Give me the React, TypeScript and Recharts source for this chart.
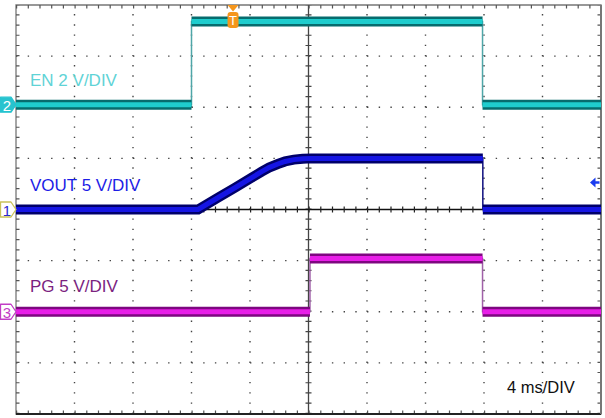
import { LineChart, Line, XAxis, YAxis, ReferenceLine, ReferenceDot, ReferenceArea } from "recharts";

// time in ms (4 ms/DIV, 10 divisions), volts per channel
const enTime = [0, 12.0, 12.0, 31.9, 31.9, 40];
const enVolts = [0, 0, 3.25, 3.25, 0, 0];

const voutTime = [0, 12.45, 13.8, 15.0, 16.1, 16.8, 17.3, 17.9, 18.4, 19.0, 19.6, 20.2, 31.92, 31.92, 40];
const voutVolts = [0, 0, 1.15, 2.15, 3.1, 3.7, 4.1, 4.45, 4.7, 4.88, 4.97, 5.0, 5.0, 0, 0];

const pgTime = [0, 20.1, 20.1, 31.9, 31.9, 40];
const pgVolts = [0, 0, 5.2, 5.2, 0, 0];

// grid (x in ms, y in divisions)
const xGrid = [4, 8, 12, 16, 24, 28, 32, 36];
const yGrid = [-3, -2, -1, 1, 2, 3];

const toPoints = (t: number[], v: number[]) => t.map((x, i) => ({ t: x, v: v[i] }));
// break the thick band at the fast (vertical) edges
const toBand = (t: number[], v: number[]) => {
  const out: { t: number; v: number | null }[] = [];
  t.forEach((x, i) => {
    if (i > 0 && (x - t[i - 1]) < 0.05 && Math.abs(v[i] - v[i - 1]) > 0.3) out.push({ t: x, v: null });
    out.push({ t: x, v: v[i] });
  });
  return out;
};

const FONT = "'Liberation Sans', Arial, sans-serif";

const channels = [
  { id: "en", t: enTime, v: enVolts, edge: "#4fa6a8", outer: "#076c6e", inner: "#1fcdce" },
  { id: "vout", t: voutTime, v: voutVolts, edge: "#101080", outer: "#00006a", inner: "#1515e4" },
  { id: "pg", t: pgTime, v: pgVolts, edge: "#a060a8", outer: "#7e0780", inner: "#e81ee8" },
];

const labels = [
  { text: "EN 2 V/DIV", t: 0.96, y: 2.52, color: "#5fd3d6", size: 17 },
  { text: "VOUT 5 V/DIV", t: 0.96, y: 0.47, color: "#1d1de6", size: 17 },
  { text: "PG 5 V/DIV", t: 0.96, y: -1.51, color: "#7b237f", size: 17 },
  { text: "4 ms/DIV", t: 33.57, y: -3.48, color: "#111", size: 16.5 },
];

const ChannelTag = ({ cx, cy, num, fill, border, color }: any) => (
  <g>
    <path
      d={`M${cx - 15.5},${cy - 7.5} L${cx - 5},${cy - 7.5} L${cx},${cy} L${cx - 5},${cy + 7.5} L${cx - 15.5},${cy + 7.5} Z`}
      fill={fill} stroke={border} strokeWidth={1.3} strokeLinejoin="round"
    />
    <text x={cx - 9} y={cy + 0.5} textAnchor="middle" dominantBaseline="central"
      style={{ fontFamily: FONT, fontSize: 15, fill: color }}>{num}</text>
  </g>
);

export default function App() {
  return (
    <div style={{ position: "absolute", left: 0, top: 0, background: "#fff" }}>
      <LineChart width={605} height={418} margin={{ top: 5, right: 4, bottom: 4, left: 16 }}>
        <XAxis type="number" dataKey="t" domain={[0, 40]} allowDataOverflow hide />
        <YAxis yAxisId="div" type="number" domain={[-4, 4]} allowDataOverflow hide />
        <YAxis yAxisId="en" type="number" domain={[-12.1, 3.9]} allowDataOverflow hide />
        <YAxis yAxisId="vout" type="number" domain={[-20, 20]} allowDataOverflow hide />
        <YAxis yAxisId="pg" type="number" domain={[-10, 30]} allowDataOverflow hide />

        {xGrid.map((x) => (
          <ReferenceLine key={`gx${x}`} yAxisId="div" x={x} stroke="#444" strokeWidth={1.4} strokeDasharray="1.4 8.82" />
        ))}
        {yGrid.map((y) => (
          <ReferenceLine key={`gy${y}`} yAxisId="div" y={y} stroke="#444" strokeWidth={1.4} strokeDasharray="1.4 10.3" />
        ))}

        {/* center axes with minor ticks */}
        <ReferenceLine yAxisId="div" x={20} stroke="#444" strokeWidth={1.3} />
        <ReferenceLine yAxisId="div" x={20} stroke="#444" strokeWidth={6} strokeDasharray="1.2 9.02" />
        <ReferenceLine yAxisId="div" y={0} stroke="#111" strokeWidth={1.3} />
        <ReferenceLine yAxisId="div" y={0} stroke="#222" strokeWidth={6} strokeDasharray="1.2 10.5" />

        {/* border ticks */}
        <ReferenceLine yAxisId="div" y={4 - 0.035} stroke="#555" strokeWidth={3.5} strokeDasharray="1.2 10.5" />
        <ReferenceLine yAxisId="div" y={-4 + 0.035} stroke="#555" strokeWidth={3.5} strokeDasharray="1.2 10.5" />
        <ReferenceLine yAxisId="div" x={0.12} stroke="#555" strokeWidth={3.5} strokeDasharray="1.2 9.02" />
        <ReferenceLine yAxisId="div" x={40 - 0.12} stroke="#555" strokeWidth={3.5} strokeDasharray="1.2 9.02" />

        <ReferenceArea yAxisId="div" x1={0} x2={40} y1={-4} y2={4} fill="none" stroke="#777" strokeWidth={1.3} />
        <ReferenceLine yAxisId="div" y={-4} stroke="#222" strokeWidth={2} />
        <ReferenceLine yAxisId="div" x={40} stroke="#777" strokeWidth={2} />

        {channels.map((c) => (
          <Line key={`${c.id}-edge`} yAxisId={c.id} data={toPoints(c.t, c.v)} dataKey="v" type="linear"
            stroke={c.edge} strokeWidth={1.5} dot={false} activeDot={false} isAnimationActive={false} />
        ))}
        {channels.map((c) => (
          <Line key={`${c.id}-outer`} yAxisId={c.id} data={toBand(c.t, c.v)} dataKey="v" type="linear"
            stroke={c.outer} strokeWidth={10} strokeLinecap="butt" dot={false} activeDot={false} isAnimationActive={false} />
        ))}
        {channels.map((c) => (
          <Line key={`${c.id}-inner`} yAxisId={c.id} data={toBand(c.t, c.v)} dataKey="v" type="linear"
            stroke={c.inner} strokeWidth={5} strokeLinecap="butt" dot={false} activeDot={false} isAnimationActive={false} />
        ))}

        {labels.map((l) => (
          <ReferenceDot key={l.text} yAxisId="div" x={l.t} y={l.y} r={0}
            shape={(p: any) => (
              <text x={p.cx} y={p.cy} dominantBaseline="central" textAnchor="start"
                style={{ fontFamily: FONT, fontSize: l.size, fill: l.color }}>{l.text}</text>
            )} />
        ))}

        <ReferenceDot yAxisId="en" x={0} y={0} r={0}
          shape={(p: any) => <ChannelTag cx={p.cx} cy={p.cy} num="2" fill="#27c3cf" border="#27c3cf" color="#fff" />} />
        <ReferenceDot yAxisId="vout" x={0} y={0} r={0}
          shape={(p: any) => <ChannelTag cx={p.cx} cy={p.cy} num="1" fill="#fff" border="#c9c25a" color="#2a2ad0" />} />
        <ReferenceDot yAxisId="pg" x={0} y={0} r={0}
          shape={(p: any) => <ChannelTag cx={p.cx} cy={p.cy} num="3" fill="#fff" border="#c23cc6" color="#c23cc6" />} />

        {/* trigger position */}
        <ReferenceDot yAxisId="div" x={14.84} y={4} r={0}
          shape={(p: any) => (
            <g>
              <path d={`M${p.cx - 5.5},${p.cy} L${p.cx + 5.5},${p.cy} L${p.cx},${p.cy + 6.5} Z`} fill="#f5961c" />
              <rect x={p.cx - 5.5} y={p.cy + 7} width={11} height={16} rx={3} fill="#f5961c" />
              <text x={p.cx} y={p.cy + 15.5} textAnchor="middle" dominantBaseline="central"
                style={{ fontFamily: FONT, fontSize: 13, fill: "#fff" }}>T</text>
            </g>
          )} />

        {/* trigger level arrow */}
        <ReferenceDot yAxisId="vout" x={40} y={2.64} r={0}
          shape={(p: any) => (
            <g>
              <path d={`M${p.cx - 11},${p.cy} L${p.cx - 5.5},${p.cy - 5} L${p.cx - 5.5},${p.cy + 5} Z`} fill="#1a3cf0" />
              <line x1={p.cx - 6} y1={p.cy} x2={p.cx - 1.5} y2={p.cy} stroke="#1a3cf0" strokeWidth={2.5} />
            </g>
          )} />
      </LineChart>
    </div>
  );
}
